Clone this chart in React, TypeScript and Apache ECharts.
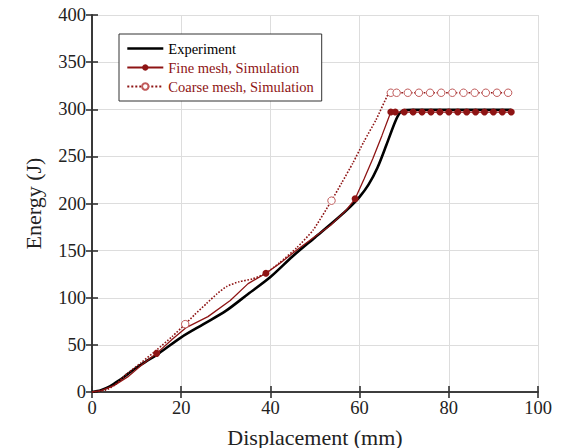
import React, { useEffect, useRef } from "react";
import * as echarts from "echarts";

const expX = [0, 2, 4, 6, 8, 10, 12, 15, 20, 25, 30, 35, 40, 45, 50, 55, 58, 60, 62, 64, 66, 68, 69, 70, 72, 76, 80, 85, 90, 94];
const expY = [0, 2, 6, 12, 19, 26, 32, 41, 58, 72, 86, 104, 122, 144, 164, 184, 197, 207, 220, 238, 262, 287, 296, 299, 299.5, 299.5, 299.5, 299.5, 299.5, 299.5];

const fineX = [0, 2, 5, 8, 11, 14.5, 18, 21, 26, 31, 35, 39, 42, 46, 50, 53.5, 57, 59, 61, 63, 65, 67, 68, 70, 72, 74, 76, 78, 80, 82, 84, 86, 88, 90, 92, 94];
const fineY = [0, 1.5, 7, 16, 28, 41, 56, 68, 80, 97, 115, 126, 136, 151, 165, 177, 193, 205, 226, 248, 272, 297, 297, 297, 297, 297, 297, 297, 297, 297, 297, 297, 297, 297, 297, 297];
const fineMarkerX = [14.5, 39, 59, 67, 68, 70, 72, 74, 76, 78, 80, 82, 84, 86, 88, 90, 92, 94];

const coarseX = [0, 3, 5, 8, 11, 14.6, 18, 20.9, 23, 25.7, 28, 30.2, 33, 36, 39, 42, 45.9, 49.6, 53.7, 56, 58.5, 61, 63.7, 66.3, 67, 68.3, 70.8, 73.3, 75.8, 78.3, 80.8, 83.3, 85.8, 88.3, 90.8, 93.3];
const coarseY = [0, 2, 7, 20, 31, 45, 59, 72, 82, 94, 104, 112, 117, 120, 126, 137, 153, 172, 203, 222, 243, 266, 289, 315, 317.5, 317.5, 317.5, 317.5, 317.5, 317.5, 317.5, 317.5, 317.5, 317.5, 317.5, 317.5];
const coarseMarkerX = [20.9, 53.7, 67, 68.3, 70.8, 73.3, 75.8, 78.3, 80.8, 83.3, 85.8, 88.3, 90.8, 93.3];

const FONT = "Liberation Serif";
const RED = "#8e1414";

export default function App() {
  const ref = useRef<HTMLDivElement>(null);
  useEffect(() => {
    if (!ref.current) return;
    const chart = echarts.init(ref.current, undefined, { renderer: "svg" });
    const expData = expX.map((x, i) => [x, expY[i]]);
    const fineData = fineX.map((x, i) => ({
      value: [x, fineY[i]],
      symbol: fineMarkerX.includes(x) ? "circle" : "none",
    }));
    const coarseData = coarseX.map((x, i) => ({
      value: [x, coarseY[i]],
      symbol: coarseMarkerX.includes(x) ? "circle" : "none",
    }));
    const axisLine = { show: true, lineStyle: { color: "#333", width: 1.6 } };
    const axisTick = { show: true, inside: true, length: 6, lineStyle: { color: "#333", width: 1.6 } };
    const tickLabel = { fontFamily: FONT, fontSize: 18.5, color: "#222", margin: 6 };
    chart.setOption({
      animation: false,
      grid: { left: 92, right: 25, top: 15, bottom: 56, outerBoundsMode: "none", containLabel: false },
      legend: {
        orient: "vertical",
        left: 119,
        top: 34,
        padding: [7, 8, 7, 7],
        itemWidth: 36,
        itemHeight: 8,
        itemGap: 4,
        borderColor: "#333",
        borderWidth: 1,
        backgroundColor: "#fff",
        textStyle: { fontFamily: FONT, fontSize: 14.5, color: "#000" },
        data: [
          { name: "Experiment", textStyle: { color: "#000" }, itemStyle: { opacity: 0 }, lineStyle: { width: 2.6 } },
          { name: "Fine mesh, Simulation", textStyle: { color: RED } },
          { name: "Coarse mesh, Simulation", textStyle: { color: RED } },
        ],
      },
      xAxis: [
        {
          type: "value",
          min: 0,
          max: 100,
          interval: 20,
          name: "Displacement (mm)",
          nameLocation: "middle",
          nameGap: 34,
          nameTextStyle: { fontFamily: FONT, fontSize: 22, color: "#222" },
          axisLine,
          axisTick,
          axisLabel: tickLabel,
          splitLine: { show: true, lineStyle: { color: "#ddd", width: 1 } },
        },
        {
          type: "value",
          position: "top",
          min: 0,
          max: 100,
          interval: 20,
          axisLine,
          axisTick,
          axisLabel: { show: false },
          splitLine: { show: false },
        },
      ],
      yAxis: [
        {
          type: "value",
          min: 0,
          max: 400,
          interval: 50,
          name: "Energy (J)",
          nameLocation: "middle",
          nameGap: 48,
          nameTextStyle: { fontFamily: FONT, fontSize: 22, color: "#222" },
          axisLine,
          axisTick,
          axisLabel: tickLabel,
          splitLine: { show: true, lineStyle: { color: "#ddd", width: 1 } },
        },
        {
          type: "value",
          position: "right",
          min: 0,
          max: 400,
          interval: 50,
          axisLine,
          axisTick,
          axisLabel: { show: false },
          splitLine: { show: false },
        },
      ],
      series: [
        {
          name: "Experiment",
          type: "line",
          data: expData,
          symbol: "none",
          smooth: 0.3,
          lineStyle: { color: "#000", width: 2.6 },
          itemStyle: { color: "#000" },
          z: 2,
        },
        {
          name: "Fine mesh, Simulation",
          type: "line",
          data: fineData,
          symbol: "circle",
          symbolSize: 7,
          lineStyle: { color: RED, width: 1.3 },
          itemStyle: { color: RED },
          z: 3,
        },
        {
          name: "Coarse mesh, Simulation",
          type: "line",
          data: coarseData,
          symbol: "circle",
          symbolSize: 7.5,
          smooth: 0.2,
          lineStyle: { color: RED, width: 1.6, type: "dotted" },
          itemStyle: { color: "#fff", borderColor: "#c05a5a", borderWidth: 1 },
          z: 4,
        },
      ],
    });
    return () => chart.dispose();
  }, []);
  return <div ref={ref} style={{ position: "absolute", left: 0, top: 0, width: 563, height: 448 }} />;
}
